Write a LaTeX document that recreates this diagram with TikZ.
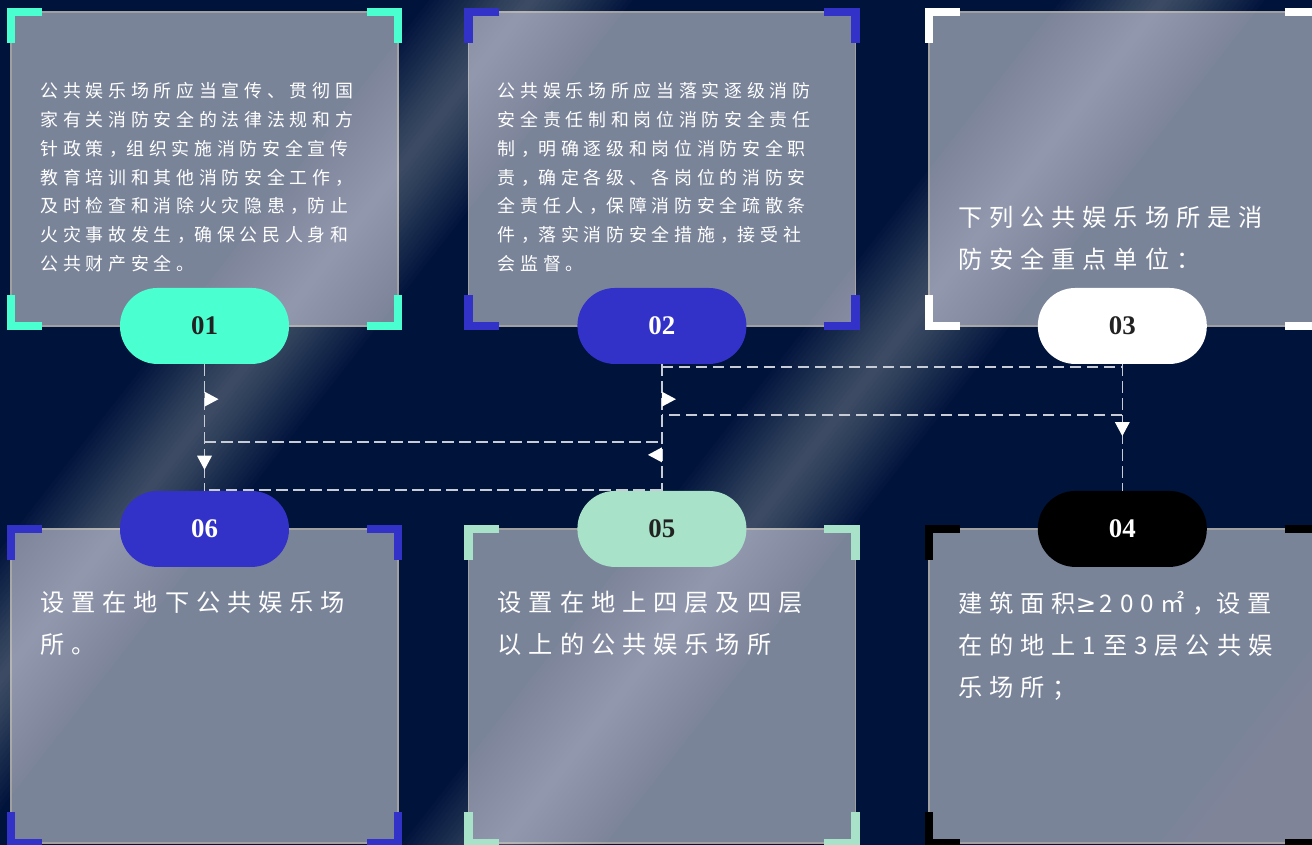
\documentclass[tikz,border=0pt]{standalone}
\usepackage{fontspec}
\setmainfont{Liberation Serif}
\newfontfamily\cjk[LetterSpace=26.5]{Noto Sans CJK SC}
\newfontfamily\cjkbig[LetterSpace=28.5]{Noto Sans CJK SC}
\newfontfamily\sym{DejaVu Sans}
\newcommand\zc[1]{\hbox to 1.27em{\hss\kern.35em#1\hss}}
\usetikzlibrary{positioning}

\definecolor{navy}{HTML}{00133A}
\definecolor{glass}{HTML}{7A8499}
\definecolor{rim}{HTML}{A0A0A0}
\definecolor{aqua}{HTML}{4AFFD0}
\definecolor{indigo}{HTML}{3232C8}
\definecolor{mint}{HTML}{A8E2C8}
\definecolor{ink}{HTML}{222222}
\definecolor{linkgray}{HTML}{C8CCD6}

\begin{document}
\begin{tikzpicture}[x=0.02cm, y=-0.02cm,
	box/.style={draw=rim, line width=0.03cm, fill=glass, minimum width=7.74cm, minimum height=6.28cm, inner sep=0, outer sep=0},
	pill/.style={rounded corners=0.75cm, minimum width=3.38cm, minimum height=1.52cm, inner sep=0, font=\fontsize{15.3}{18}\selectfont\bfseries},
	small/.style={anchor=north west, inner sep=0, align=left, text=white, font=\cjk\fontsize{10.2}{16.4}\selectfont},
	big/.style={anchor=north west, inner sep=0, align=left, text=white, font=\cjkbig\fontsize{13.8}{23.8}\selectfont},
	corner/.style={line width=0.17cm},
	link/.style={draw=linkgray, line width=0.03cm, dash pattern=on 0.23cm off 0.11cm},
	tri/.pic={\fill[white] (0,-7.5) -- (14,0) -- (0,7.5) -- cycle;}]
	\fill[navy] (0,0) rectangle (1312,845);
	\clip (0,0) rectangle (1312,845);

	\node [box] (b1) at (204.5,169) {};
	\node [box, right=1.41cm of b1] (b2) {};
	\node [box, right=1.47cm of b2] (b3) {};
	\node [box, below=4.06cm of b1] (b6) {};
	\node [box, right=1.41cm of b6] (b5) {};
	\node [box, right=1.47cm of b5] (b4) {};

	% light streaks
	\foreach \w in {4,8,...,80} {
		\fill[white, opacity=0.016, rotate around={52:(195,430)}] (-505,430-\w) rectangle (895,430+\w);
		\fill[white, opacity=0.016, rotate around={52:(827,430)}] (127,430-\w) rectangle (1527,430+\w);
		\fill[white, opacity=0.008, rotate around={52:(1330,820)}] (1030,820-1.5*\w) rectangle (1630,820+1.5*\w);
	}

	\foreach \b/\c in {b1/aqua, b2/indigo, b3/white, b4/black, b5/mint, b6/indigo} {
		\draw[corner, \c] ([xshift=0.62cm]\b.north west) -- (\b.north west) -- ([yshift=-0.62cm]\b.north west);
		\draw[corner, \c] ([xshift=-0.62cm]\b.north east) -- (\b.north east) -- ([yshift=-0.62cm]\b.north east);
		\draw[corner, \c] ([yshift=0.62cm]\b.south west) -- (\b.south west) -- ([xshift=0.62cm]\b.south west);
		\draw[corner, \c] ([yshift=0.62cm]\b.south east) -- (\b.south east) -- ([xshift=-0.62cm]\b.south east);
	}

	\node [pill, fill=aqua, text=ink] (p1) at (b1.south) {01};
	\node [pill, fill=indigo, text=white] (p2) at (b2.south) {02};
	\node [pill, fill=white, text=ink] (p3) at (b3.south) {03};
	\node [pill, fill=black, text=white] (p4) at (b4.north) {04};
	\node [pill, fill=mint, text=ink] (p5) at (b5.north) {05};
	\node [pill, fill=indigo, text=white] (p6) at (b6.north) {06};

	\coordinate (r1) at (0,367);
	\coordinate (r2) at (0,415);
	\coordinate (r3) at (0,442);
	\coordinate (r4) at (0,490);

	\path (p1) edge [link] (p6);
	\path (p2) edge [link] (p5);
	\path (p3) edge [link] (p4);
	\draw[link] (p1.south |- r3) -- (p2.south |- r3);
	\draw[link] (p2.south |- r1) -- (p3.south |- r1);
	\draw[link] (p4.north |- r2) -- (p5.north |- r2);
	\draw[link] (p5.north |- r4) -- (p6.north |- r4);

	\path (p1) -- coordinate[pos=0.276] (a1) coordinate[pos=0.724] (a2) (p6);
	\path (p2) -- coordinate[pos=0.276] (a3) coordinate[pos=0.717] (a4) (p5);
	\path (p3) -- coordinate[pos=0.457] (a5) (p4);
	\pic at (a1) {tri};
	\pic[rotate=-90] at (a2) {tri};
	\pic at (a3) {tri};
	\pic[rotate=180] at (a4) {tri};
	\pic[rotate=-90] at (a5) {tri};

	\node [small] (t1) at ([shift={(29,70)}]b1.north west) {公共娱乐场所应当宣传、贯彻国\\家有关消防安全的法律法规和方\\针政策\zc{，}组织实施消防安全宣传\\教育培训和其他消防安全工作\zc{，}\\及时检查和消除火灾隐患\zc{，}防止\\火灾事故发生\zc{，}确保公民人身和\\公共财产安全。};
	\node [small] (t2) at ([shift={(29,70)}]b2.north west) {公共娱乐场所应当落实逐级消防\\安全责任制和岗位消防安全责任\\制\zc{，}明确逐级和岗位消防安全职\\责\zc{，}确定各级、各岗位的消防安\\全责任人\zc{，}保障消防安全疏散条\\件\zc{，}落实消防安全措施\zc{，}接受社\\会监督。};
	\node [big] (t3) at ([shift={(29,194)}]b3.north west) {下列公共娱乐场所是消\\防安全重点单位\zc{：}};
	\node [big] (t4) at ([shift={(29,62)}]b4.north west) {建筑面积{\sym ≥}\kern.15em200㎡\zc{，}设置\\在的地上1至3层公共娱\\乐场所\zc{；}};
	\node [big] (t5) at ([shift={(29,62)}]b5.north west) {设置在地上四层及四层\\以上的公共娱乐场所};
	\node [big] (t6) at ([shift={(29,62)}]b6.north west) {设置在地下公共娱乐场\\所。};
\end{tikzpicture}
\end{document}
